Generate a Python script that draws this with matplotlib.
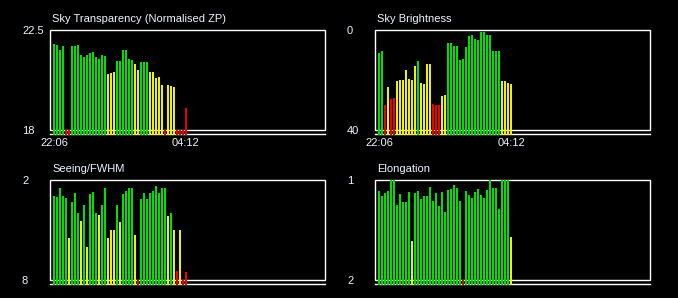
import matplotlib
matplotlib.use('Agg')
import matplotlib.pyplot as plt
import matplotlib.transforms as mtransforms
from matplotlib.patches import Rectangle

# time labels under the top row (first and last sample)
times = ['22:06', '04:12']

transparency = [21.87, 21.83, 21.6, 21.78, 18.0, 18.0, 21.78, 21.78, 21.83, 21.38,
                21.29, 21.38, 21.47, 21.51, 21.29, 21.2, 21.38, 21.33, 20.52, 20.57,
                20.61, 21.11, 21.11, 21.6, 21.6, 21.2, 21.15, 20.97, 20.7, 21.06,
                21.06, 21.06, 20.61, 20.61, 20.34, 20.39, 20.03, 18.0, 20.03, 19.98,
                19.94, 18.0, 18.0, 18.0, 18.99]
brightness = [9.2, 8.4, 30.0, 22.8, 27.6, 27.2, 20.4, 20.0, 20.0, 16.0,
              19.6, 20.0, 14.4, 12.4, 21.2, 21.6, 13.6, 13.6, 29.6, 30.0,
              30.0, 26.4, 26.0, 5.2, 5.2, 6.4, 6.4, 12.0, 11.6, 6.8,
              2.4, 2.0, 3.6, 4.0, 0.8, 0.8, 2.0, 2.0, 8.4, 8.4,
              8.4, 20.4, 20.4, 21.2, 21.6]
seeing = [2.96, 3.02, 2.48, 2.96, 3.08, 5.48, 3.32, 2.78, 3.98, 4.46,
          3.5, 6.02, 2.84, 2.72, 3.98, 4.1, 3.5, 2.48, 5.48, 5.0,
          5.0, 3.5, 4.52, 2.84, 2.66, 2.48, 2.48, 5.3, 8.0, 3.14,
          2.78, 3.14, 2.78, 2.66, 2.36, 2.78, 2.48, 2.48, 4.16, 3.98,
          5.0, 7.46, 5.0, 8.0, 7.52]
elongation = [1.11, 1.16, 1.13, 1.11, 1.0, 1.0, 1.25, 1.14, 1.22, 1.22,
              1.12, 1.61, 1.13, 1.11, 1.19, 1.16, 1.16, 1.07, 1.21, 1.13,
              1.26, 1.12, 1.32, 1.10, 1.09, 1.05, 1.08, 1.21, 2.0, 1.11,
              1.15, 1.18, 1.12, 1.09, 1.15, 1.18, 1.10, 1.0, 1.08, 1.08,
              1.29, 1.0, 1.0, 1.0, 1.57]

GREEN, YELLOW, RED = '#00e000', '#f0f000', '#f00000'
TXT = '#eef4ff'

W, H = 678, 298
fig = plt.figure(figsize=(W / 100, H / 100), dpi=100, facecolor='black')
plt.rcParams['font.family'] = ['Liberation Sans', 'DejaVu Sans']


def colour(v, good, bad, higher_better):
    if higher_better:
        return GREEN if v >= good else (YELLOW if v >= bad else RED)
    return GREEN if v < good else (YELLOW if v <= bad else RED)


def panel(left, top, title, vals, top_val, bot_val, good, bad, higher_better, xlabels=None):
    # axes spans the box (100px) plus 5px of bar base below it
    ax = fig.add_axes([left / W, (H - top - 105) / H, 275 / W, 105 / H])
    ax.set_facecolor('black')
    for s in ax.spines.values():
        s.set_visible(False)
    d = (bot_val - top_val) / 100.0  # data units per pixel
    base = bot_val + 5 * d
    ax.set_ylim(base, top_val)
    ax.set_xlim(-4 / 3, -4 / 3 + 275 / 3)
    x = range(len(vals))
    cols = [colour(v, good, bad, higher_better) for v in vals]
    ax.bar(x, [v - base for v in vals], bottom=base, width=2 / 3, color=cols,
           linewidth=0, antialiased=False, zorder=3)
    tr = mtransforms.blended_transform_factory(ax.transAxes, ax.transData)
    ax.add_patch(Rectangle((0, bot_val), 1, top_val - bot_val, transform=tr, fill=False,
                           edgecolor='white', linewidth=1.0, clip_on=False, zorder=2))
    ax.plot([0, 1], [bot_val + 4 * d] * 2, transform=tr, color='white', lw=1.0,
            clip_on=False, zorder=2)
    ax.set_yticks([top_val, bot_val])
    ax.set_yticklabels([f'{top_val:g}', f'{bot_val:g}'])
    ax.tick_params(axis='y', length=0, pad=20.2, labelsize=8, labelcolor=TXT)
    for lbl in ax.get_yticklabels():
        lbl.set_horizontalalignment('left')
    if xlabels:
        ax.set_xticks([0, len(vals) - 1])
        ax.set_xticklabels(xlabels)
        ax.tick_params(axis='x', length=0, pad=2.5, labelsize=8, labelcolor=TXT)
    else:
        ax.set_xticks([])
    ax.set_title(title, loc='left', fontsize=8, color=TXT, pad=5.5, x=2 / 275)
    return ax


panel(50, 30, 'Sky Transparency (Normalised ZP)', transparency, 22.5, 18, 21.0, 19.5, True, times)
panel(375, 30, 'Sky Brightness', brightness, 0, 40, 13, 27, False, times)
panel(50, 180, 'Seeing/FWHM', seeing, 2, 8, 4.0, 7.0, False)
panel(375, 180, 'Elongation', elongation, 1, 2, 1.4, 1.8, False)

fig.savefig('out.png', dpi=100, facecolor='black')
